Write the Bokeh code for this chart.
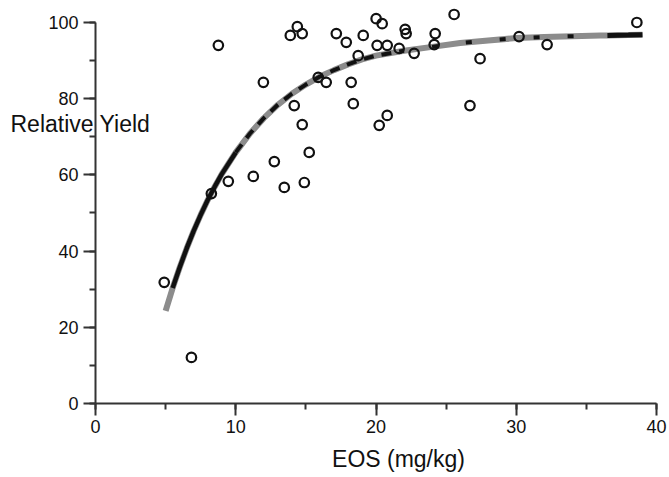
from bokeh.plotting import figure
from bokeh.models import Range1d, SingleIntervalTicker, Label
from bokeh.embed import file_html
from bokeh.resources import INLINE

# Observed data (EOS mg/kg vs relative yield %)
eos = [4.9, 6.84, 8.26, 8.76, 9.47, 11.25, 11.97, 12.75, 13.46, 13.89, 14.17, 14.39,
       14.74, 14.74, 14.89, 15.24, 15.88, 16.45, 17.17, 17.88, 18.23, 18.38, 18.73,
       19.09, 20.01, 20.44, 20.08, 20.8, 20.23, 20.8, 21.65, 22.08, 22.15, 22.72,
       24.22, 24.15, 25.57, 26.7, 27.42, 30.2, 32.2, 38.6]
rel_yield = [31.8, 12.1, 55.1, 94.0, 58.3, 59.6, 84.3, 63.5, 56.7, 96.6, 78.2, 98.9,
             97.1, 73.2, 58.0, 65.9, 85.6, 84.3, 97.1, 94.8, 84.3, 78.7, 91.3,
             96.6, 101.0, 99.7, 94.0, 94.0, 73.0, 75.6, 93.2, 98.2, 97.1, 91.9,
             97.1, 94.2, 102.1, 78.2, 90.5, 96.3, 94.2, 100.0]

# Fitted response curve
curve_x = [5.0, 5.5, 6.0, 6.5, 7.0, 7.5, 8.0, 8.5, 9.0, 10, 11, 12, 13, 14, 15, 16,
           17, 18, 19, 20, 22, 24, 26, 28, 30, 32, 34, 36, 36.5, 38, 39]
curve_y = [24.3, 30.3, 35.7, 40.7, 45.3, 49.5, 53.4, 56.9, 60.2, 65.9, 70.8, 74.9,
           78.4, 81.3, 83.7, 85.8, 87.5, 89.0, 90.3, 91.3, 92.6, 93.6, 94.6, 95.3,
           95.9, 96.2, 96.4, 96.6, 96.6, 96.7, 96.8]

x_ticks_interval = 10
y_ticks_interval = 20
x_title = "EOS (mg/kg)"
y_title = "Relative Yield"

FONT = "Liberation Sans"

# frame covers the whole canvas; axes are drawn at x = 0 and y = 0
p = figure(width=669, height=477, x_range=Range1d(-6.774, 40.927),
           y_range=Range1d(-19.42, 105.77),
           output_backend="svg", toolbar_location=None,
           min_border_left=0, min_border_right=0, min_border_top=0, min_border_bottom=0)
p.outline_line_color = None
p.xgrid.visible = False
p.ygrid.visible = False
p.background_fill_color = "white"
p.border_fill_color = "white"

p.xaxis.ticker = SingleIntervalTicker(interval=x_ticks_interval, num_minor_ticks=2)
p.yaxis.ticker = SingleIntervalTicker(interval=y_ticks_interval, num_minor_ticks=2)
p.xaxis.bounds = (0, 40)
p.yaxis.bounds = (0, 100)
for ax in (p.xaxis, p.yaxis):
    ax.fixed_location = 0
    ax.axis_line_width = 2
    ax.axis_line_color = "#333333"
    ax.major_tick_line_width = 2
    ax.minor_tick_line_width = 2
    ax.major_tick_line_color = "#333333"
    ax.minor_tick_line_color = "#333333"
    ax.major_tick_in = 0
    ax.major_tick_out = 12
    ax.minor_tick_in = 0
    ax.minor_tick_out = 6
    ax.major_label_text_font = FONT
    ax.major_label_text_font_size = "18px"
    ax.major_label_text_color = "#111111"
    ax.axis_label = " "
    ax.axis_label_text_font_size = "1px"
p.yaxis.major_label_standoff = 5
p.xaxis.major_label_standoff = 4
p.yaxis.axis_label_standoff = -45
p.xaxis.axis_label_standoff = -38

# Curve: grey thick base with black segments
p.line(curve_x, curve_y, line_color="#8c8c8c", line_width=6)
p.line(curve_x[1:10], curve_y[1:10], line_color="#111111", line_width=4.5)
p.line(curve_x[9:21], curve_y[9:21], line_color="#111111", line_width=4, line_dash="10 8")
p.line(curve_x[21:28], curve_y[21:28], line_color="#111111", line_width=4, line_dash="6 28")
p.line(curve_x[28:], curve_y[28:], line_color="#111111", line_width=5)

p.scatter(eos, rel_yield, marker="circle", size=9.5, fill_color=None,
          line_color="#111111", line_width=2.2)

p.add_layout(Label(x=398, y=458, x_units="canvas", y_units="canvas", text=x_title,
                   text_align="center", text_baseline="alphabetic", text_font=FONT,
                   text_font_size="23px", text_color="#111111"))
p.add_layout(Label(x=10, y=123, x_units="canvas", y_units="canvas", text=y_title,
                   text_align="left", text_baseline="alphabetic", text_font=FONT,
                   text_font_size="23px", text_color="#111111"))

open("out.html", "w").write(file_html(p, INLINE))
